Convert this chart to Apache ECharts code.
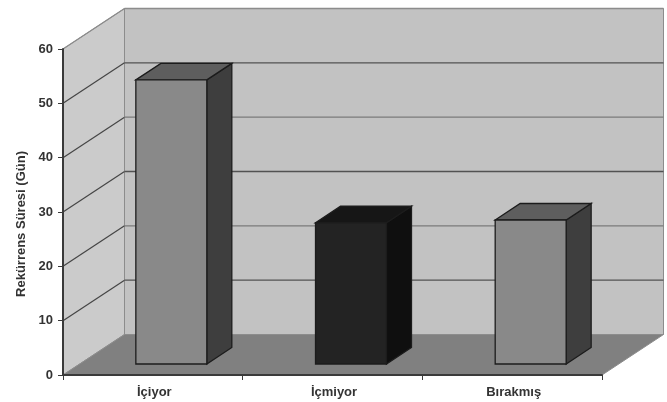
<!DOCTYPE html>
<html>
<head>
<meta charset="utf-8">
<script src="https://cdn.jsdelivr.net/npm/echarts@6/dist/echarts.min.js"></script>
<style>
  html, body { margin: 0; padding: 0; background: #fff; }
  #chart { width: 667px; height: 402px; filter: blur(0.6px); }
</style>
</head>
<body>
<div id="chart"></div>
<script>
const categories = ['İçiyor', 'İçmiyor', 'Bırakmış'];
const values = [52.3, 26, 26.5];
const yTicks = [0, 10, 20, 30, 40, 50, 60];
const yAxisTitle = 'Rekürrens Süresi (Gün)';

// depth of the fake 3d box and of the bars, in pixels
const wallDx = 61.5, wallDy = -40.5;
const barShiftX = 18.5, barShiftY = -11;
const barDx = 25, barDy = -16.5;
const barFronts = ['#898989', '#232323', '#898989'];
const barTops = ['#5e5e5e', '#161616', '#5e5e5e'];
const barSides = ['#3e3e3e', '#0f0f0f', '#3e3e3e'];

const chart = echarts.init(document.getElementById('chart'));

function poly(points, fill, stroke, lineWidth) {
  return {
    type: 'polygon',
    shape: { points: points },
    style: { fill: fill, stroke: stroke || null, lineWidth: lineWidth || 0 }
  };
}

function line(x1, y1, x2, y2, stroke, lineWidth) {
  return {
    type: 'line',
    shape: { x1: x1, y1: y1, x2: x2, y2: y2 },
    style: { stroke: stroke, lineWidth: lineWidth }
  };
}

function renderWalls(params, api) {
  const cs = params.coordSys;
  const v = api.value(1);
  const y = api.coord([0, v])[1];
  const left = cs.x, right = cs.x + cs.width;
  const children = [];
  // walls and floor come with the zero tick
  if (v === 0) {
    const top = api.coord([0, yTicks[yTicks.length - 1]])[1];
    children.push(poly([[left + wallDx, top + wallDy], [right + wallDx, top + wallDy], [right + wallDx, y + wallDy], [left + wallDx, y + wallDy]], '#c2c2c2', '#8c8c8c', 1));
    children.push(poly([[left, top], [left + wallDx, top + wallDy], [left + wallDx, y + wallDy], [left, y]], '#cbcbcb', '#8c8c8c', 1));
    children.push(poly([[left, y], [left + wallDx, y + wallDy], [right + wallDx, y + wallDy], [right, y]], '#808080', '#8c8c8c', 1));
  } else {
    // the scan makes every other gridline look darker
    const back = v === 60 ? '#8c8c8c' : (v / 10) % 2 ? '#525252' : '#7a7a7a';
    const side = v === 60 ? '#8c8c8c' : '#454545';
    children.push(line(left, y, left + wallDx, y + wallDy, side, 1.2));
    children.push(line(left + wallDx, y + wallDy, right + wallDx, y + wallDy, back, 1.3));
  }
  return { type: 'group', children: children };
}

function renderBar(params, api) {
  const i = api.value(0);
  const zero = api.coord([i, 0]);
  const head = api.coord([i, api.value(1)]);
  const w = api.size([1, 0])[0] * 0.395;
  const x0 = zero[0] + barShiftX - w / 2, x1 = x0 + w;
  const y0 = zero[1] + barShiftY, y1 = head[1] + barShiftY;
  const edge = '#1c1c1c';
  return {
    type: 'group',
    children: [
      poly([[x1, y1], [x1 + barDx, y1 + barDy], [x1 + barDx, y0 + barDy], [x1, y0]], barSides[i], edge, 1.3),
      poly([[x0, y1], [x0 + barDx, y1 + barDy], [x1 + barDx, y1 + barDy], [x1, y1]], barTops[i], edge, 1.3),
      poly([[x0, y1], [x1, y1], [x1, y0], [x0, y0]], barFronts[i], edge, 1.3)
    ]
  };
}

chart.setOption({
  animation: false,
  grid: { left: 63, top: 49, width: 539, height: 326 },
  xAxis: {
    type: 'category',
    data: categories,
    z: 5,
    axisLine: { lineStyle: { color: '#3a3a3a', width: 2 } },
    axisTick: { show: true, length: 5, lineStyle: { color: '#3a3a3a', width: 1 } },
    axisLabel: { color: '#333', fontFamily: 'Liberation Sans', fontWeight: 'bold', fontSize: 13, margin: 11, padding: [0, 0, 0, 3] }
  },
  yAxis: {
    type: 'value',
    min: 0,
    max: 60,
    interval: 10,
    z: 5,
    name: yAxisTitle,
    nameLocation: 'middle',
    nameGap: 35,
    nameTextStyle: { color: '#333', fontFamily: 'Liberation Sans', fontWeight: 'bold', fontSize: 13, padding: [0, 24, 0, 0] },
    splitLine: { show: false },
    axisLine: { show: true, lineStyle: { color: '#3a3a3a', width: 2 } },
    axisTick: { show: true, length: 5, lineStyle: { color: '#3a3a3a', width: 1 } },
    axisLabel: { color: '#333', fontFamily: 'Liberation Sans', fontWeight: 'bold', fontSize: 13, margin: 10, padding: [2, 0, 0, 0] }
  },
  series: [
    {
      type: 'custom',
      name: 'walls',
      renderItem: renderWalls,
      encode: { x: 0, y: 1 },
      data: yTicks.map(function (v) { return [0, v]; }),
      silent: true
    },
    {
      type: 'custom',
      name: 'bars',
      renderItem: renderBar,
      encode: { x: 0, y: 1 },
      data: values.map(function (v, i) { return [i, v]; }),
      silent: true
    }
  ]
});
</script>
</body>
</html>
